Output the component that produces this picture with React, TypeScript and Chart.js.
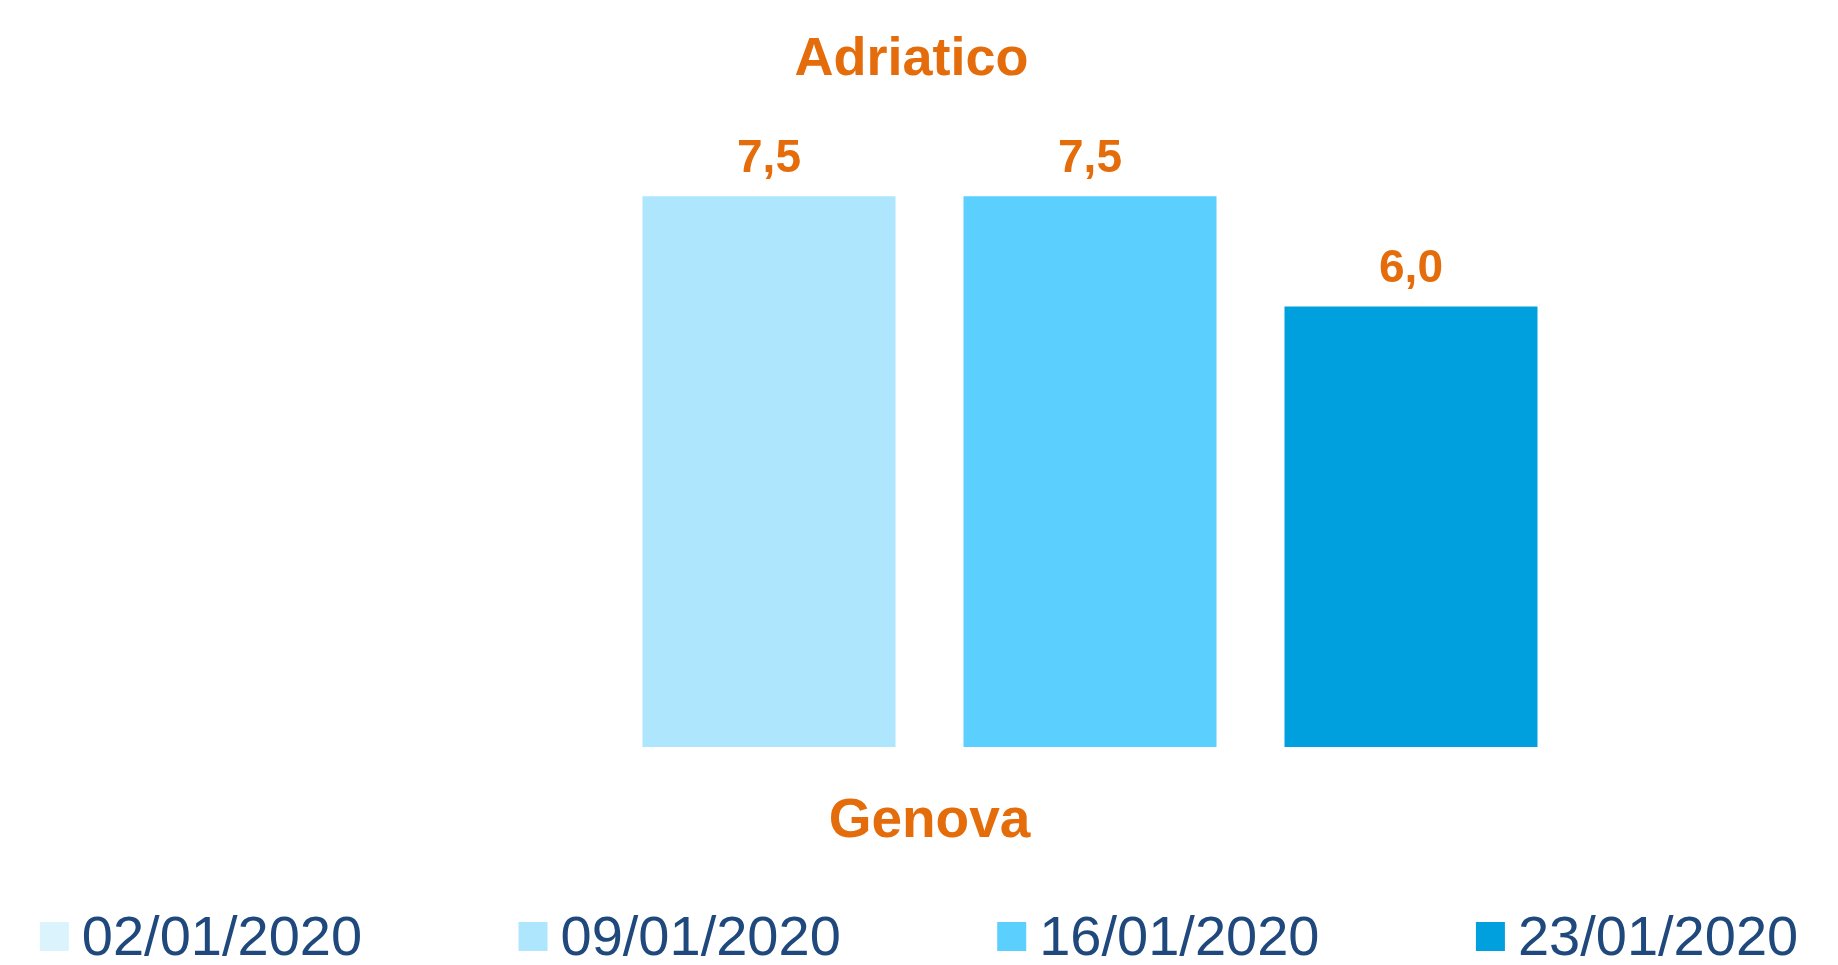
import React, { useEffect, useRef } from "react";
import { Chart, registerables } from "chart.js";

Chart.register(...registerables);

// ---- data ----
const categories = ["Genova"];
const chartTitle = "Adriatico";
const seriesLabels = ["02/01/2020", "09/01/2020", "16/01/2020", "23/01/2020"];
const series0: (number | null)[] = [null];
const series1: (number | null)[] = [7.5];
const series2: (number | null)[] = [7.5];
const series3: (number | null)[] = [6.0];
const yMin = 0;
const yMax = 8.5;

// ---- styles ----
const seriesColors = ["#DBF3FD", "#AEE6FD", "#5BCFFD", "#00A0DF"];
const ORANGE = "#E46C0A";
const NAVY = "#1F497D";
const FONT = "'Liberation Sans', Arial, sans-serif";

const valueLabels = {
  id: "valueLabels",
  afterDatasetsDraw(chart: any) {
    const ctx = chart.ctx;
    ctx.save();
    ctx.font = `bold 46px ${FONT}`;
    ctx.fillStyle = ORANGE;
    ctx.textAlign = "center";
    ctx.textBaseline = "alphabetic";
    chart.data.datasets.forEach((ds: any, i: number) => {
      const meta = chart.getDatasetMeta(i);
      if (meta.hidden) return;
      meta.data.forEach((bar: any, j: number) => {
        const v = ds.data[j];
        if (v === null || v === undefined) return;
        ctx.fillText(Number(v).toFixed(1).replace(".", ","), bar.x, bar.y - 24);
      });
    });
    ctx.restore();
  },
};

const bottomLegend = {
  id: "bottomLegend",
  afterDraw(chart: any) {
    const ctx = chart.ctx;
    const box = 29;
    const gap = 13;
    const spacing = 478.7;
    ctx.save();
    ctx.font = `56px ${FONT}`;
    const items = chart.data.datasets.map((ds: any) => ({
      text: ds.label as string,
      color: ds.backgroundColor as string,
    }));
    const lastW = box + gap + ctx.measureText(items[items.length - 1].text).width;
    const total = spacing * (items.length - 1) + lastW;
    let x = (chart.width - total) / 2;
    const boxTop = chart.height - 35;
    const baseline = chart.height - 2;
    ctx.textAlign = "left";
    ctx.textBaseline = "alphabetic";
    items.forEach((it: any) => {
      ctx.fillStyle = it.color;
      ctx.fillRect(x, boxTop, box, box);
      ctx.fillStyle = NAVY;
      ctx.fillText(it.text, x + box + gap, baseline);
      x += spacing;
    });
    ctx.restore();
  },
};

export default function App() {
  const canvasRef = useRef<HTMLCanvasElement | null>(null);

  useEffect(() => {
    if (!canvasRef.current) return;
    const seriesData = [series0, series1, series2, series3];
    const chart = new Chart(canvasRef.current, {
      type: "bar",
      data: {
        labels: categories,
        datasets: seriesLabels.map((label, i) => ({
          label,
          data: seriesData[i],
          backgroundColor: seriesColors[i],
          borderWidth: 0,
          categoryPercentage: 0.8173,
          barPercentage: 0.7882,
        })),
      },
      options: {
        animation: false,
        responsive: true,
        maintainAspectRatio: false,
        layout: { padding: { left: 100, right: 115, top: 0, bottom: 60 } },
        plugins: {
          legend: { display: false },
          tooltip: { enabled: false },
          title: {
            display: true,
            text: chartTitle,
            color: ORANGE,
            font: { family: FONT, size: 54, weight: "bold", lineHeight: 1.2 },
            padding: { top: 20, bottom: 30 },
          },
        },
        scales: {
          x: {
            grid: { display: false, drawTicks: false },
            border: { display: false },
            ticks: {
              color: ORANGE,
              font: { family: FONT, size: 55, weight: "bold", lineHeight: 1.2 },
              padding: 42,
            },
          },
          y: {
            display: true,
            min: yMin,
            max: yMax,
            grid: { display: false, drawTicks: false },
            border: { display: false },
            ticks: { display: false },
            afterFit: (scale: any) => {
              scale.width = 36;
            },
          },
        },
      },
      plugins: [valueLabels, bottomLegend],
    });
    return () => chart.destroy();
  }, []);

  return (
    <div style={{ width: "1822px", height: "949px", position: "relative" }}>
      <canvas ref={canvasRef} />
    </div>
  );
}
